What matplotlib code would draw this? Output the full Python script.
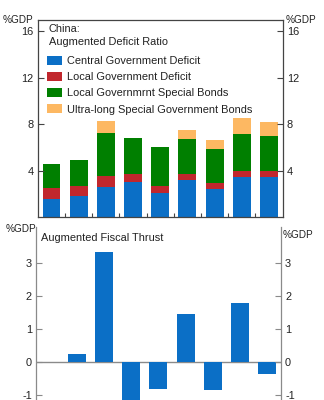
import matplotlib
matplotlib.use("Agg")
import matplotlib.pyplot as plt
import numpy as np

plt.rcParams["font.family"] = ["Liberation Sans", "DejaVu Sans"]
plt.rcParams["axes.unicode_minus"] = False

# top panel: augmented deficit ratio, %GDP (stacked)
central = [1.56, 1.77, 2.6, 2.98, 2.06, 3.19, 2.41, 3.42, 3.42]
local_def = [0.9, 0.9, 0.96, 0.73, 0.61, 0.55, 0.52, 0.55, 0.55]
special = [2.14, 2.2, 3.69, 3.1, 3.33, 2.96, 2.96, 3.22, 3.04]
ultra = [0.0, 0.0, 0.98, 0.0, 0.0, 0.78, 0.78, 1.3, 1.14]
labels = ["Central Government Deficit", "Local Government Deficit",
          "Local Governmrnt Special Bonds", "Ultra-long Special Government Bonds"]
colors = ["#0b6fc6", "#c1272d", "#007f00", "#fdb862"]

# bottom panel: augmented fiscal thrust, %GDP
thrust = [0.0, 0.25, 3.33, -1.3, -0.8, 1.46, -0.85, 1.8, -0.35]

x = np.arange(len(central))
fs = 7.9
gfs = 7.2
txt = "#222222"
grey = "#8a8a8a"

fig = plt.figure(figsize=(3.24, 4.0), dpi=100)

# ---- top panel
ax = fig.add_axes([0.117, 0.4575, 0.755, 0.4935])
bottom = np.zeros(len(x))
for vals, lab, col in zip([central, local_def, special, ultra], labels, colors):
    vals = np.array(vals)
    ax.bar(x, vals, 0.66, bottom=bottom, color=col, label=lab,
           edgecolor="none")
    bottom += vals
ax.set_xlim(-0.5, 8.5)
ax.set_ylim(0, 17)
ax.set_yticks([4, 8, 12, 16])
ax.set_xticks(x[:-1] + 0.5)
ax.set_xticklabels([])
ax.tick_params(axis="x", direction="in", length=3, color="#444444")
ax.tick_params(axis="y", direction="in", length=4, labelsize=fs,
               labelcolor=txt, color="#444444", right=True, labelright=True,
               pad=3)
for s in ax.spines.values():
    s.set_color("#444444")
    s.set_linewidth(0.9)
ax.text(-0.145, 1.0, "%GDP", transform=ax.transAxes, fontsize=gfs,
        color=txt, ha="left", va="center")
ax.text(1.014, 1.0, "%GDP", transform=ax.transAxes, fontsize=gfs,
        color=txt, ha="left", va="center")
ax.text(0.045, 0.952, "China:", transform=ax.transAxes, fontsize=fs,
        color=txt, va="center")
ax.text(0.045, 0.888, "Augmented Deficit Ratio", transform=ax.transAxes,
        fontsize=fs, color=txt, va="center")
leg = ax.legend(loc="upper left", bbox_to_anchor=(0.01, 0.85), frameon=False,
                fontsize=fs, handlelength=1.35, handleheight=0.85,
                handletextpad=0.5, labelspacing=0.55, borderaxespad=0.2)
for t in leg.get_texts():
    t.set_color(txt)

# ---- bottom panel
ax2 = fig.add_axes([0.111, 0.0, 0.756, 0.4325])
ax2.bar(x, thrust, 0.66, color=colors[0])
ax2.set_xlim(-0.5, 8.5)
ax2.set_ylim(-1.14, 4.1)
ax2.axhline(0, color=grey, lw=1.0, zorder=0)
ax2.set_yticks([-1, 0, 1, 2, 3])
ax2.set_xticks([])
ax2.tick_params(axis="y", direction="in", length=4, labelsize=fs,
                labelcolor=txt, color=grey, right=True, labelright=True,
                pad=3)
ax2.spines["top"].set_visible(False)
ax2.spines["bottom"].set_visible(False)
for side in ["left", "right"]:
    ax2.spines[side].set_color(grey)
    ax2.spines[side].set_linewidth(0.9)
ax2.text(-0.125, 0.99, "%GDP", transform=ax2.transAxes, fontsize=gfs,
         color=txt, ha="left", va="center")
ax2.text(1.008, 0.955, "%GDP", transform=ax2.transAxes, fontsize=gfs,
         color=txt, ha="left", va="center")
ax2.text(0.022, 0.935, "Augmented Fiscal Thrust", transform=ax2.transAxes,
         fontsize=fs, color=txt, va="center")

fig.savefig("out.png", dpi=100)
